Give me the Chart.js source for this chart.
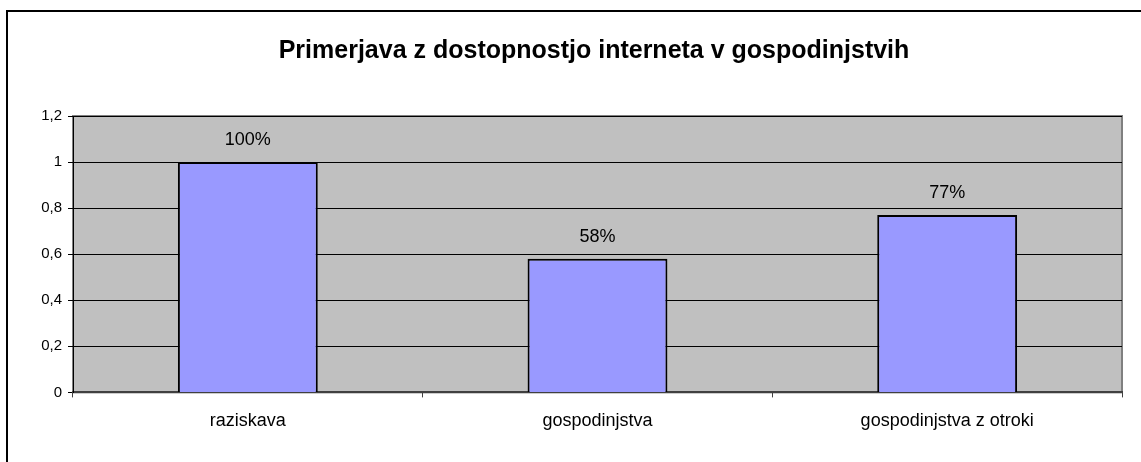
<!DOCTYPE html>
<html>
<head>
<meta charset="utf-8">
<script src="https://cdn.jsdelivr.net/npm/chart.js@4"></script>
<style>
  html, body { margin: 0; padding: 0; background: #fff; overflow: hidden; }
  #frame { position: absolute; left: 6px; top: 10px; width: 1200px; height: 500px; border: 2px solid #000; box-sizing: border-box; }
  #wrap { position: absolute; left: 0; top: 0; width: 1188px; height: 462px; }
</style>
</head>
<body>
<div id="frame"></div>
<div id="wrap"><canvas id="myChart"></canvas></div>
<script>
var categories = ["raziskava", "gospodinjstva", "gospodinjstva z otroki"];
var values = [1, 0.58, 0.77];
var yTickLabels = ["0", "0,2", "0,4", "0,6", "0,8", "1", "1,2"];
var chartTitle = "Primerjava z dostopnostjo interneta v gospodinjstvih";

var FONT = "Arial, 'Liberation Sans', sans-serif";

// siva podlaga in okvir risalne povrsine
var plotBg = {
  id: "plotBg",
  beforeDraw: function (chart) {
    var a = chart.chartArea;
    var ctx = chart.ctx;
    ctx.save();
    ctx.fillStyle = "#C0C0C0";
    ctx.fillRect(a.left, a.top, a.right - a.left, a.bottom - a.top);
    ctx.strokeStyle = "#808080";
    ctx.lineWidth = 2;
    ctx.strokeRect(a.left, a.top, a.right - a.left, a.bottom - a.top);
    ctx.restore();
  }
};

// oznake s procenti nad stolpci
var barLabels = {
  id: "barLabels",
  afterDatasetsDraw: function (chart) {
    var ctx = chart.ctx;
    var meta = chart.getDatasetMeta(0);
    ctx.save();
    ctx.font = "18px " + FONT;
    ctx.fillStyle = "#000";
    ctx.textAlign = "center";
    ctx.textBaseline = "middle";
    meta.data.forEach(function (bar, i) {
      ctx.fillText(Math.round(values[i] * 100) + "%", bar.x, bar.y - 22);
    });
    ctx.restore();
  }
};

const ctx = document.getElementById("myChart");
new Chart(ctx, {
  type: "bar",
  data: {
    labels: categories,
    datasets: [
      {
        data: values,
        backgroundColor: "#9999FF",
        borderColor: "#000",
        borderWidth: 2,
        barPercentage: 0.4,
        categoryPercentage: 1
      }
    ]
  },
  options: {
    responsive: true,
    maintainAspectRatio: false,
    animation: false,
    layout: { padding: { left: 0, right: 0, top: 0, bottom: 17 } },
    plugins: {
      legend: { display: false },
      tooltip: { enabled: false },
      title: {
        display: true,
        text: chartTitle,
        color: "#000",
        font: { family: FONT, size: 25, weight: "bold" },
        padding: { top: 36, bottom: 50 }
      }
    },
    scales: {
      x: {
        grid: {
          drawOnChartArea: false,
          drawTicks: true,
          tickLength: 5,
          color: "#404040",
          lineWidth: 1
        },
        border: { color: "#404040", width: 2 },
        ticks: {
          color: "#000",
          padding: 13,
          font: { family: FONT, size: 18 }
        }
      },
      y: {
        min: 0,
        max: 1.2,
        afterFit: function (scale) { scale.width = 73; },
        grid: { color: "#000", lineWidth: 1, tickLength: 5 },
        border: { color: "#000", width: 1 },
        ticks: {
          stepSize: 0.2,
          color: "#000",
          padding: 6,
          font: { family: FONT, size: 15 },
          callback: function (value, index) { return yTickLabels[index]; }
        }
      },
      // prazen prostor desno od risalne povrsine
      yRight: {
        position: "right",
        min: 0,
        max: 1.2,
        afterFit: function (scale) { scale.width = 66; },
        grid: { display: false },
        border: { display: false },
        ticks: { display: false }
      }
    }
  },
  plugins: [plotBg, barLabels]
});
</script>
</body>
</html>
